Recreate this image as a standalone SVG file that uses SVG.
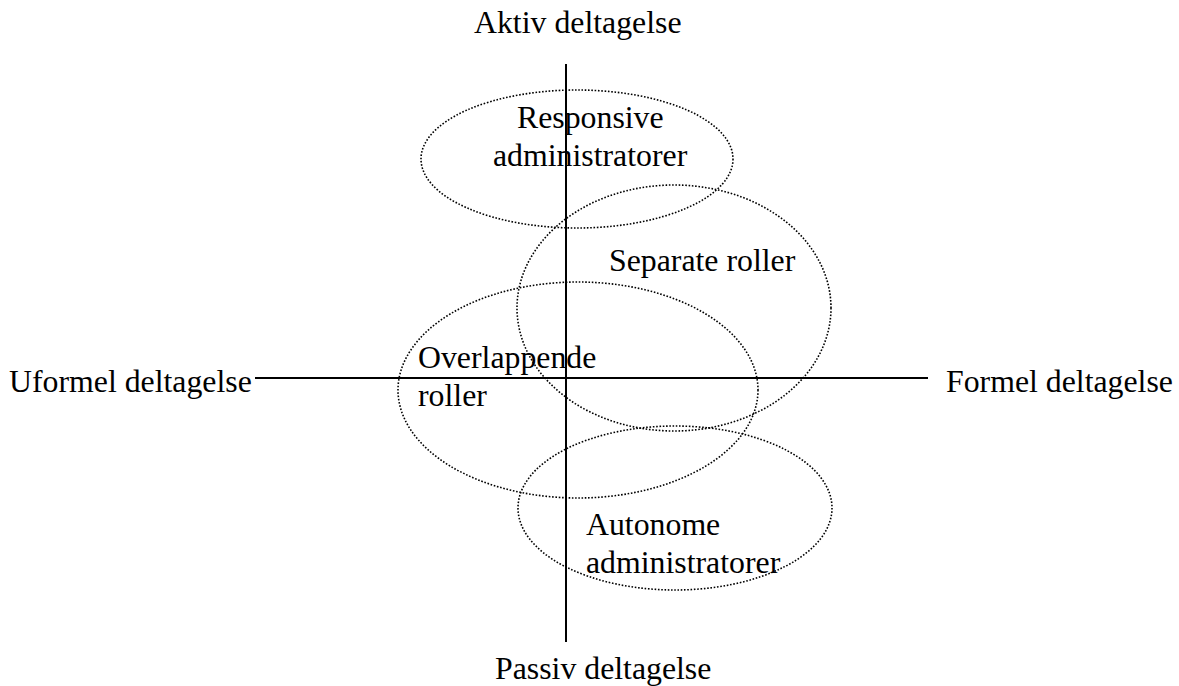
<svg xmlns="http://www.w3.org/2000/svg" width="1179" height="686" viewBox="0 0 1179 686">
<style>
.t{font-family:"Liberation Serif","Times New Roman",serif;font-size:31.8px;fill:#000}
.e{fill:none;stroke:#000;stroke-width:1.6;stroke-dasharray:1.6 1.7}
.ax{stroke:#000;stroke-width:2}
</style>
<rect width="1179" height="686" fill="#fff"/>
<g id="axes">
<line class="ax" x1="566" y1="64" x2="566" y2="642"/>
<line class="ax" x1="255" y1="378" x2="928" y2="378"/>
</g>
<g id="labels">
<text class="t" x="474" y="33">Aktiv deltagelse</text>
<text class="t" x="495" y="679">Passiv deltagelse</text>
<text class="t" x="9" y="392">Uformel deltagelse</text>
<text class="t" x="946" y="392">Formel deltagelse</text>
</g>
<g id="responsive">
<ellipse class="e" cx="577" cy="159" rx="156" ry="69"/>
<text class="t" x="517" y="128">Responsive</text>
<text class="t" x="493" y="166">administratorer</text>
</g>
<g id="separate">
<ellipse class="e" cx="674" cy="308" rx="157" ry="123"/>
<text class="t" x="609" y="271">Separate roller</text>
</g>
<g id="overlappende">
<ellipse class="e" cx="578" cy="390" rx="180" ry="108"/>
<text class="t" x="418" y="368">Overlappende</text>
<text class="t" x="418" y="406">roller</text>
</g>
<g id="autonome">
<ellipse class="e" cx="675" cy="508" rx="157" ry="82"/>
<text class="t" x="586" y="535">Autonome</text>
<text class="t" x="586" y="573">administratorer</text>
</g>
</svg>
